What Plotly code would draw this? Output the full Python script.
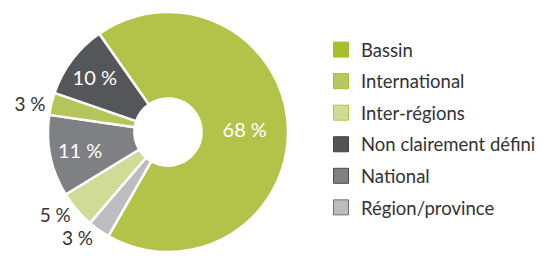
import plotly.graph_objects as go

# Data (clockwise order in the pie, starting with Bassin)
pie_labels = ["Bassin", "Région/province", "Inter-régions", "National", "International", "Non clairement défini"]
pie_values = [68, 3, 5, 11, 3, 10]

# Legend order as shown in the reference
legend_labels = ["Bassin", "International", "Inter-régions", "Non clairement défini", "National", "Région/province"]

pie_colors = {
    "Bassin": "#b3c34a",
    "International": "#b5c55a",
    "Inter-régions": "#d0db98",
    "Non clairement défini": "#555659",
    "National": "#7e8083",
    "Région/province": "#bbbdc0",
}
legend_colors = {
    "Bassin": ("#a6bf2a", "#a6bf2a"),
    "International": ("#b7c862", "#a6bf2a"),
    "Inter-régions": ("#cfdc96", "#b0c640"),
    "Non clairement défini": ("#535457", "#3e3f41"),
    "National": ("#7e8083", "#4a4b4d"),
    "Région/province": ("#bbbdc0", "#6f7073"),
}

FONT = "Lato"
text_pos = ["inside" if v >= 10 else "outside" for v in pie_values]

fig = go.Figure()
fig.add_trace(go.Pie(
    labels=pie_labels,
    values=pie_values,
    sort=False,
    direction="clockwise",
    rotation=-35,
    hole=0.28,
    marker=dict(colors=[pie_colors[l] for l in pie_labels], line=dict(color="white", width=2.5)),
    texttemplate="%{value} %",
    textposition=text_pos,
    insidetextorientation="horizontal",
    insidetextfont=dict(family=FONT, size=20, color="white"),
    outsidetextfont=dict(family=FONT, size=19, color="#333333"),
    showlegend=False,
    domain=dict(x=[40 / 545, 280 / 545], y=[12 / 256, 252 / 256]),
))

for i, lab in enumerate(legend_labels):
    fc, lc = legend_colors[lab]
    fig.add_trace(go.Scatter(
        x=[None], y=[None], mode="markers", name=lab,
        legendgroup=f"g{i}",
        marker=dict(symbol="square", size=15, color=fc, line=dict(color=lc, width=1)),
        showlegend=True,
    ))

fig.update_layout(
    width=545, height=256,
    margin=dict(l=0, r=0, t=0, b=0),
    paper_bgcolor="white", plot_bgcolor="white",
    xaxis=dict(visible=False), yaxis=dict(visible=False),
    legend=dict(
        x=313 / 545, xanchor="left", y=0.529, yanchor="middle",
        font=dict(family=FONT, size=18.5, color="#333333"),
        tracegroupgap=4.5,
        itemwidth=30,
        bgcolor="rgba(0,0,0,0)",
    ),
)

fig.write_html("out.html")
